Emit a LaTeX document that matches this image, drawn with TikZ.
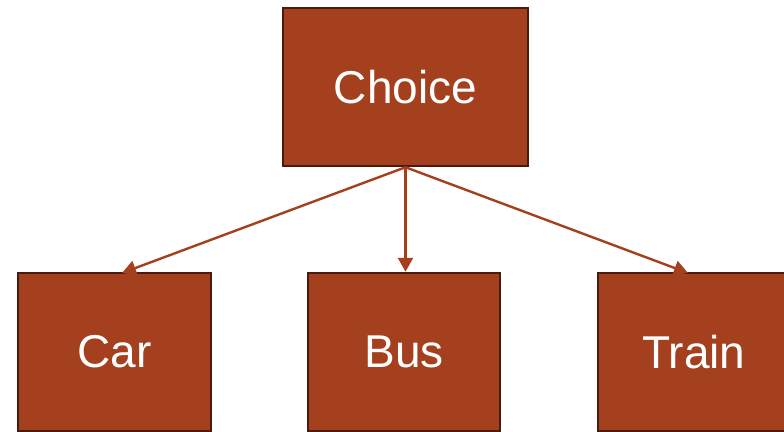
\documentclass[tikz,border=0pt]{standalone}
\usepackage{fontspec}
\setmainfont{Liberation Sans}
\usetikzlibrary{arrows.meta}
\definecolor{boxfill}{HTML}{A5401F}
\definecolor{boxline}{HTML}{4A1A0C}
\tikzset{
  optbox/.style={draw=boxline, line width=2.5pt, fill=boxfill, text=white,
    minimum width=#1, minimum height=158pt, inner sep=0pt,
    font=\fontsize{46}{52}\selectfont},
  link/.style={draw=boxfill, line width=2.4pt, -{Triangle[length=14pt,width=15pt]}}
}
\begin{document}
\begin{tikzpicture}[x=1pt,y=-1pt]
  \useasboundingbox (0,0) rectangle (784,431);
  \clip (0,0) rectangle (784,431);
  \node[optbox=245pt] (choice) at (405.5,87) {Choice};
  \node[optbox=193pt] (car) at (114.5,352) {Car};
  \node[optbox=192pt] (bus) at (404,352) {Bus};
  \node[optbox=192pt] (train) at (694,352) {Train};
  \coordinate (carin) at (122,273);
  \coordinate (trainin) at (688,273);
  \draw[link] (choice.south) -- (carin);
  \draw[link] (choice.south) -- (bus.north -| choice.south);
  \draw[link] (choice.south) -- (trainin);
\end{tikzpicture}
\end{document}
